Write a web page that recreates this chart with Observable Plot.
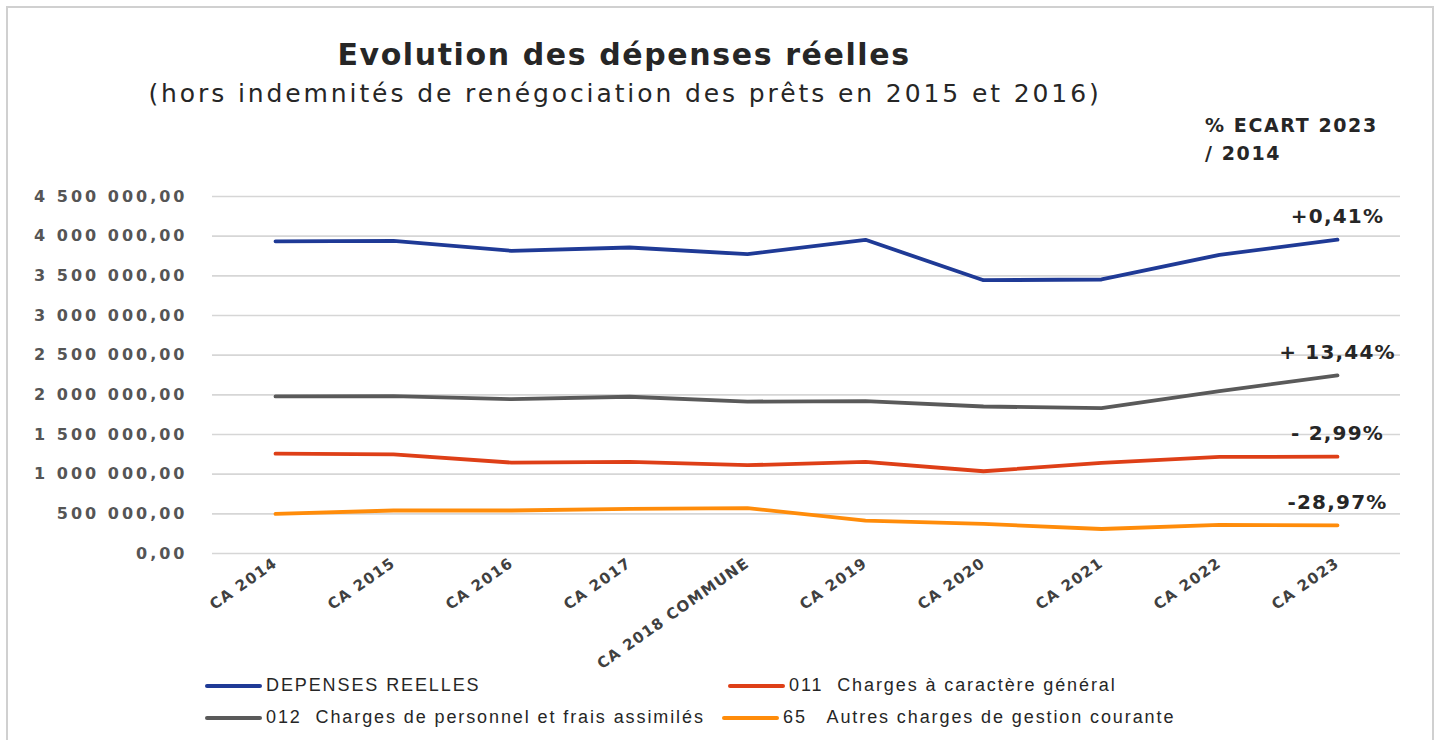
<!DOCTYPE html>
<html><head><meta charset="utf-8">
<script src="https://cdn.jsdelivr.net/npm/d3@7"></script>
<script src="https://cdn.jsdelivr.net/npm/@observablehq/plot@0.6"></script>
<style>
body{margin:0;background:#fff;}
#wrap{position:relative;width:1442px;height:740px;overflow:hidden;background:#fff;}
#frame{position:absolute;left:6px;top:6px;width:1428px;height:780px;border:2px solid #d0d0d0;box-sizing:border-box;}
#chart{position:absolute;left:0;top:0;}
.t{position:absolute;white-space:nowrap;color:#262626;}
#title{left:624px;top:37px;transform:translateX(-50%);font:bold 30px "DejaVu Sans";letter-spacing:1.6px;}
#subtitle{left:625px;top:79px;transform:translateX(-50%);font:25px "DejaVu Sans";letter-spacing:2.9px;}
#ecart{left:1205px;top:111px;font:bold 19px "DejaVu Sans";line-height:28px;letter-spacing:1.6px;}
.leg{position:absolute;font:18px "Liberation Sans";color:#262626;white-space:pre;display:flex;align-items:center;letter-spacing:1.9px;}
.sw{display:inline-block;width:57px;height:4px;margin-right:4px;border-radius:2px;}
</style></head>
<body>
<div id="wrap">
  <div id="frame"></div>
  <div id="chart"></div>
  <div class="t" id="title">Evolution des dépenses réelles</div>
  <div class="t" id="subtitle">(hors indemnités de renégociation des prêts en 2015 et 2016)</div>
  <div class="t" id="ecart">% ECART 2023<br>/ 2014</div>
  <div id="legend"></div>
</div>
<script>
const categories = ["CA 2014","CA 2015","CA 2016","CA 2017","CA 2018 COMMUNE","CA 2019","CA 2020","CA 2021","CA 2022","CA 2023"];
const depensesReelles = [3935000,3941000,3815000,3857000,3773000,3954000,3445000,3454000,3765000,3955000];
const charges011 = [1258000,1250000,1146000,1154000,1113000,1154000,1037000,1142000,1217000,1220000];
const charges012 = [1980000,1984000,1945000,1976000,1915000,1920000,1853000,1832000,2046000,2245000];
const charges65 = [500000,542000,542000,563000,572000,415000,373000,309000,360000,355000];
const seriesNames = ["DEPENSES REELLES","011  Charges à caractère général","012  Charges de personnel et frais assimilés","65   Autres charges de gestion courante"];
const seriesColors = ["#1f3a96","#de3f17","#5a5a5a","#ff8c0a"];
const ecartLabels = ["+0,41%","- 2,99%","+ 13,44%","-28,97%"];
const yTicks = [0,500000,1000000,1500000,2000000,2500000,3000000,3500000,4000000,4500000];

const seriesValues = [depensesReelles, charges011, charges012, charges65];
const rows = [];
seriesValues.forEach((vals, s) => vals.forEach((v, i) => rows.push({serie: seriesNames[s], cat: categories[i], value: v})));
const lastRows = seriesValues.map((vals, s) => ({serie: seriesNames[s], cat: categories[categories.length-1], value: vals[vals.length-1], label: ecartLabels[s]}));

const fr = d3.formatLocale({decimal: ",", thousands: "\u00a0", grouping: [3], currency: ["", " €"]});
const fmt = fr.format(",.2f");

const plot = Plot.plot({
  width: 1442, height: 740,
  marginLeft: 212, marginRight: 42, marginTop: 196, marginBottom: 187,
  x: {type: "point", domain: categories, padding: 0.5, label: null},
  y: {domain: [0, 4500000], label: null},
  color: {domain: seriesNames, range: seriesColors},
  style: {fontFamily: "DejaVu Sans", color: "#404040", background: "transparent"},
  marks: [
    Plot.ruleY(yTicks, {stroke: "#d6d6d6", strokeWidth: 1.6}),
    Plot.axisY({ticks: yTicks, tickFormat: fmt, tickSize: 0, tickPadding: 25, fontSize: 16, fontWeight: 600, fill: "#555", label: null}),
    Plot.axisX({tickSize: 0, tickRotate: -35, tickPadding: 8, fontSize: 15, fontWeight: "bold", fill: "#404040", label: null}),
    Plot.line(rows, {x: "cat", y: "value", z: "serie", stroke: "serie", strokeWidth: 3.8, strokeLinecap: "round", strokeLinejoin: "round"}),
    Plot.text(lastRows, {x: "cat", y: "value", text: "label", dy: -23, fontSize: 20, fontWeight: "bold", fill: "#262626", textAnchor: "middle"})
  ]
});
plot.querySelectorAll("[aria-label='y-axis tick label'] text").forEach(t => t.setAttribute("letter-spacing", "3"));
plot.querySelectorAll("[aria-label='x-axis tick label'] text").forEach(t => t.setAttribute("letter-spacing", "1.2"));
plot.querySelectorAll("[aria-label='text'] text").forEach(t => t.setAttribute("letter-spacing", "1.2"));
document.getElementById("chart").appendChild(plot);

const legendPos = [[205, 686], [728, 686], [205, 718], [722, 718]];
const leg = document.getElementById("legend");
seriesNames.forEach((n, i) => {
  const d = document.createElement("div");
  d.className = "leg";
  d.style.left = legendPos[i][0] + "px";
  d.style.top = (legendPos[i][1] - 11) + "px";
  d.innerHTML = `<span class="sw" style="background:${seriesColors[i]}"></span>`;
  d.appendChild(document.createTextNode(n));
  leg.appendChild(d);
});
</script>
</body></html>
